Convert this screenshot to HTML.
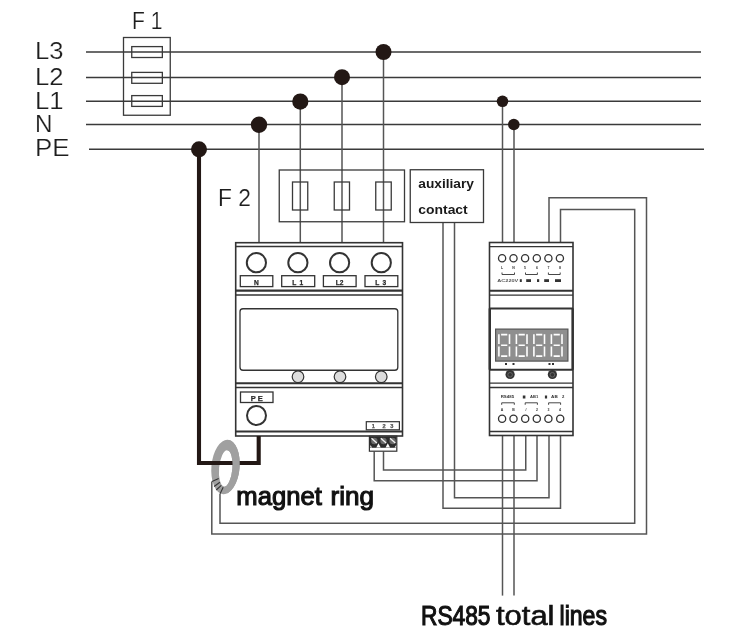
<!DOCTYPE html>
<html><head><meta charset="utf-8">
<style>
html,body{margin:0;padding:0;background:#fff;width:739px;height:644px;overflow:hidden}
svg{display:block;will-change:transform}
text{font-family:"Liberation Sans",sans-serif}
</style></head><body>
<svg width="739" height="644" viewBox="0 0 739 644">
<rect width="739" height="644" fill="#fff"/>

<!-- bus lines -->
<g stroke="#3a3a3a" stroke-width="1.5" fill="none">
<line x1="86" y1="52" x2="701" y2="52"/>
<line x1="86" y1="77.5" x2="701" y2="77.5"/>
<line x1="86" y1="101.3" x2="701" y2="101.3"/>
<line x1="86" y1="124.5" x2="701" y2="124.5"/>
<line x1="89" y1="149.3" x2="704" y2="149.3"/>
</g>

<!-- labels -->
<g fill="#1e1e1e" font-size="23.5" stroke="#fff" stroke-width="0.2">
<text x="35" y="58.7" textLength="28.5" lengthAdjust="spacingAndGlyphs">L3</text>
<text x="35" y="85" textLength="28.5" lengthAdjust="spacingAndGlyphs">L2</text>
<text x="35" y="109.2" textLength="28.5" lengthAdjust="spacingAndGlyphs">L1</text>
<text x="35" y="132" textLength="17.5" lengthAdjust="spacingAndGlyphs">N</text>
<text x="35" y="156.2" textLength="34.5" lengthAdjust="spacingAndGlyphs">PE</text>
<text x="132" y="28.7" textLength="30.5" lengthAdjust="spacingAndGlyphs">F 1</text>
<text x="218" y="205.5" textLength="33" lengthAdjust="spacingAndGlyphs">F 2</text>
</g>

<!-- F1 box -->
<g stroke="#3a3a3a" stroke-width="1.3" fill="none">
<rect x="123.5" y="37.5" width="46.75" height="77.75"/>
<rect x="131.75" y="46.6" width="30.6" height="10.9"/>
<rect x="131.75" y="72.4" width="30.6" height="10.9"/>
<rect x="131.75" y="95.6" width="30.6" height="10.8"/>
</g>

<!-- vertical wires -->
<g stroke="#555" stroke-width="1.5" fill="none">
<line x1="259" y1="125" x2="259" y2="243"/>
<line x1="300.3" y1="101.5" x2="300.3" y2="243"/>
<line x1="342" y1="77" x2="342" y2="243"/>
<line x1="383.5" y1="52" x2="383.5" y2="243"/>
<line x1="502.5" y1="101.3" x2="502.5" y2="243"/>
<line x1="514" y1="124.5" x2="514" y2="243"/>
<!-- aux wires -->
<polyline points="443,222.5 443,508.3 560.5,508.3 560.5,435.5"/>
<polyline points="454.5,222.5 454.5,497.8 549,497.8 549,435.5"/>
<!-- terminal wires -->
<polyline points="374.2,451.5 374.2,480.8 537,480.8 537,435.5"/>
<polyline points="383.5,451.5 383.5,470 525.75,470 525.75,435.5"/>
<!-- rs485 -->
<line x1="502.5" y1="435.5" x2="502.5" y2="595.6"/>
<line x1="514" y1="435.5" x2="514" y2="595.6"/>
<!-- loops -->
<polyline points="549,243 549,197.7 646.5,197.7 646.5,534 211.8,534 211.8,481.6"/>
<polyline points="560.5,243 560.5,209.4 634.7,209.4 634.7,523.3 220,523.3 220,493.7"/>
</g>

<!-- F2 box -->
<g stroke="#3a3a3a" stroke-width="1.3" fill="none">
<rect x="279.25" y="170" width="125.25" height="51.75"/>
<rect x="292.5" y="182" width="15.25" height="28"/>
<rect x="334.25" y="182" width="15.25" height="28"/>
<rect x="375.75" y="182" width="15.5" height="28"/>
</g>

<!-- aux box -->
<rect x="410.25" y="169.75" width="73.25" height="52.75" stroke="#3a3a3a" stroke-width="1.3" fill="#fff"/>
<g fill="#1a1a1a" font-size="13" font-weight="bold">
<text x="418.25" y="188" textLength="55.75" lengthAdjust="spacingAndGlyphs">auxiliary</text>
<text x="418.25" y="214" textLength="49.5" lengthAdjust="spacingAndGlyphs">contact</text>
</g>

<!-- breaker body -->
<g stroke="#333" fill="none">
<rect x="235.7" y="242.7" width="166.8" height="193.3" stroke-width="1.6"/>
<line x1="235.7" y1="246.5" x2="402.5" y2="246.5" stroke-width="1.3"/>
<line x1="235.7" y1="290.7" x2="402.5" y2="290.7" stroke-width="2.2"/>
<line x1="235.7" y1="295" x2="402.5" y2="295" stroke-width="1.3"/>
<line x1="235.7" y1="383.25" x2="402.5" y2="383.25" stroke-width="1.8"/>
<line x1="235.7" y1="387.5" x2="402.5" y2="387.5" stroke-width="1.3"/>
<line x1="235.7" y1="431.5" x2="402.5" y2="431.5" stroke-width="1.8"/>
<circle cx="256.4" cy="262.7" r="9.6" stroke-width="2"/>
<circle cx="297.9" cy="262.7" r="9.6" stroke-width="2"/>
<circle cx="339.6" cy="262.7" r="9.6" stroke-width="2"/>
<circle cx="381.3" cy="262.7" r="9.6" stroke-width="2"/>
<g stroke-width="1.3">
<rect x="240.3" y="275.7" width="32.5" height="10.9"/>
<rect x="281.7" y="275.7" width="33" height="10.9"/>
<rect x="323.4" y="275.7" width="32.7" height="10.9"/>
<rect x="365" y="275.7" width="32.8" height="10.9"/>
<rect x="240" y="308.75" width="157.8" height="61.5" rx="3"/>
<rect x="240.5" y="392" width="32.5" height="10.5"/>
</g>
<circle cx="298" cy="376.75" r="5.8" fill="#ddd" stroke-width="1.2"/>
<circle cx="340" cy="376.75" r="5.8" fill="#ddd" stroke-width="1.2"/>
<circle cx="381.25" cy="376.75" r="5.8" fill="#ddd" stroke-width="1.2"/>
<circle cx="256.5" cy="415.5" r="9.5" stroke-width="2"/>
<rect x="366.3" y="421.7" width="33.1" height="8.1" stroke-width="1.2" fill="#fff"/>
</g>
<g fill="#2a2a2a" stroke="#2a2a2a" stroke-width="0.25" font-size="6.6" font-weight="bold" text-anchor="middle">
<text x="256.5" y="284.8">N</text>
<text x="298.2" y="284.8" letter-spacing="0.8">L 1</text>
<text x="339.7" y="284.8">L2</text>
<text x="381.2" y="284.8" letter-spacing="0.8">L 3</text>
<text x="256.7" y="400.8" font-size="7.5">P E</text>
<text x="373.4" y="428" font-size="5.6" fill="#555" stroke="#555">1</text><text x="384" y="428" font-size="5.6" fill="#555" stroke="#555">2</text><text x="391.7" y="428" font-size="5.6" fill="#555" stroke="#555">3</text>
</g>
<!-- screw block -->
<rect x="369.4" y="436.2" width="27.4" height="15" fill="#fff" stroke="#333" stroke-width="1.2"/>
<rect x="369.8" y="436.4" width="26.6" height="11.4" fill="#2c2c2c"/>
<g fill="#6a6a6a"><circle cx="374.3" cy="441" r="3.2"/><circle cx="383.5" cy="441" r="3.2"/><circle cx="392.6" cy="441" r="3.2"/></g>
<g stroke="#f2f2f2" stroke-width="1.3">
<line x1="371.5" y1="438.3" x2="376.8" y2="443"/>
<line x1="380.8" y1="438.3" x2="386.1" y2="443"/>
<line x1="390" y1="438.3" x2="395.3" y2="443"/>
</g>
<g fill="#fff"><path d="M376.3,447.6 l2.2,-4.3 l2.2,4.3z"/><path d="M385.6,447.6 l2.2,-4.3 l2.2,4.3z"/><path d="M370.3,447.6 l0,-2.5 l1.8,2.5z"/><path d="M394.6,447.6 l1.6,-2.5 l0,2.5z"/></g>
<!-- meter -->
<g stroke="#333" fill="none">
<rect x="489.5" y="242.5" width="83.5" height="193" stroke-width="1.6"/>
<line x1="489.5" y1="246.7" x2="573" y2="246.7" stroke-width="1.3"/>
<line x1="489.5" y1="290.7" x2="573" y2="290.7" stroke-width="2"/>
<line x1="489.5" y1="295.2" x2="573" y2="295.2" stroke-width="1.3"/>
<line x1="489.5" y1="308.4" x2="573" y2="308.4" stroke-width="2"/>
<line x1="489.5" y1="369.7" x2="573" y2="369.7" stroke-width="2"/>
<line x1="489.8" y1="308.4" x2="489.8" y2="369.7" stroke-width="2.4"/>
<line x1="572.6" y1="308.4" x2="572.6" y2="369.7" stroke-width="2.4"/>
<line x1="489.5" y1="383.2" x2="573" y2="383.2" stroke-width="1.3"/>
<line x1="489.5" y1="387.5" x2="573" y2="387.5" stroke-width="1.3"/>
<line x1="489.5" y1="431.4" x2="573" y2="431.4" stroke-width="1.5"/>
<g stroke-width="1.3">
<circle cx="502.1" cy="258.2" r="3.6"/><circle cx="513.5" cy="258.2" r="3.6"/><circle cx="525.1" cy="258.2" r="3.6"/>
<circle cx="536.8" cy="258.2" r="3.6"/><circle cx="548.4" cy="258.2" r="3.6"/><circle cx="559.9" cy="258.2" r="3.6"/>
<circle cx="502.1" cy="418.8" r="3.6"/><circle cx="513.5" cy="418.8" r="3.6"/><circle cx="525.2" cy="418.8" r="3.6"/>
<circle cx="536.8" cy="418.8" r="3.6"/><circle cx="548.4" cy="418.8" r="3.6"/><circle cx="560.2" cy="418.8" r="3.6"/>
</g>
<g stroke-width="0.9">
<path d="M502,272.5 V274.5 H514.5 V272.5"/>
<path d="M525.5,272.5 V274.5 H537.4 V272.5"/>
<path d="M548.4,272.5 V274.5 H560.2 V272.5"/>
<path d="M501.7,404.8 V402.8 H514.3 V404.8"/>
<path d="M525.2,404.8 V402.8 H537.4 V404.8"/>
<path d="M548.6,404.8 V402.8 H560.6 V404.8"/>
</g>
</g>
<rect x="495.6" y="329.1" width="72.3" height="32" fill="#8f8f8f" stroke="#555" stroke-width="1.2"/>
<g fill="#333" font-size="3.5" font-weight="bold" text-anchor="middle">
<text x="502" y="268.5">L</text><text x="513.5" y="268.5">N</text><text x="525" y="268.5">5</text>
<text x="537" y="268.5">6</text><text x="548.5" y="268.5">7</text><text x="560" y="268.5">8</text>

</g><g fill="#333" font-size="4.2" font-weight="bold">
<text x="500.7" y="398.4" textLength="13.4" lengthAdjust="spacingAndGlyphs">RS485</text><rect x="522.8" y="395.5" width="2.6" height="3"/>
<text x="530" y="398.4" textLength="8.2" lengthAdjust="spacingAndGlyphs">AB1</text><rect x="544.9" y="395.5" width="2.2" height="3"/>
<text x="551.1" y="398.4" textLength="6.7" lengthAdjust="spacingAndGlyphs">AB</text><text x="561.9" y="398.4">2</text>
</g><g fill="#333" font-size="3.5" font-weight="bold" text-anchor="middle">
<text x="502" y="411" font-size="3.5">A</text><text x="513.5" y="411" font-size="3.5">B</text><text x="526" y="411" font-size="3.5">/</text>
<text x="537" y="411" font-size="3.5">2</text><text x="548.5" y="411" font-size="3.5">3</text><text x="560" y="411" font-size="3.5">4</text>
</g>
<g fill="#333"><rect x="505" y="363" width="2" height="2"/><rect x="512.5" y="363" width="2" height="2"/><rect x="548.5" y="363" width="2" height="2"/><rect x="552" y="363" width="2" height="2"/></g>
<circle cx="510.1" cy="374.5" r="4.6" fill="#333"/>
<circle cx="552.4" cy="374.5" r="4.6" fill="#333"/>
<circle cx="510.1" cy="374.8" r="2.3" fill="none" stroke="#6a6a6a" stroke-width="0.9"/>
<circle cx="552.4" cy="374.8" r="2.3" fill="none" stroke="#6a6a6a" stroke-width="0.9"/>
<g fill="#555" font-size="4.2" font-weight="bold"><text x="497.3" y="282.3" textLength="21" lengthAdjust="spacingAndGlyphs">AC220V</text></g>
<g fill="#333"><rect x="519.8" y="279.2" width="2" height="2.8"/><rect x="526.2" y="279.2" width="4.8" height="2.8"/><rect x="537" y="279.2" width="2.2" height="2.8"/><rect x="544.2" y="279.2" width="4.8" height="2.8"/><rect x="555" y="279.2" width="6" height="2.8"/></g>
<!-- digits -->
<g stroke="#fff" stroke-width="1.6" fill="none">
<path d="M498.9,334.3 V344 M498.9,346.6 V356.6 M509.5,334.3 V344 M509.5,346.6 V356.6 M501.1,334.6 H507.3 M501.1,345.3 H507.3 M501.1,356.1 H507.3"/>
<path d="M516.4,334.3 V344 M516.4,346.6 V356.6 M527.0,334.3 V344 M527.0,346.6 V356.6 M518.6,334.6 H524.8 M518.6,345.3 H524.8 M518.6,356.1 H524.8"/>
<path d="M533.9,334.3 V344 M533.9,346.6 V356.6 M544.5,334.3 V344 M544.5,346.6 V356.6 M536.1,334.6 H542.3 M536.1,345.3 H542.3 M536.1,356.1 H542.3"/>
<path d="M551.4,334.3 V344 M551.4,346.6 V356.6 M562.0,334.3 V344 M562.0,346.6 V356.6 M553.6,334.6 H559.8 M553.6,345.3 H559.8 M553.6,356.1 H559.8"/>
</g>

<!-- magnet ring -->
<g transform="rotate(5 225.5 467)">
<path d="M211.4,467 a14.1,27.3 0 1,0 28.2,0 a14.1,27.3 0 1,0 -28.2,0 Z M219.2,468.35 a6.65,18.15 0 1,0 13.3,0 a6.65,18.15 0 1,0 -13.3,0 Z" fill="#a0a0a0" fill-rule="evenodd"/>
</g>
<!-- thick PE wire -->
<path d="M199,149.3 V463 H258.7 V436" fill="none" stroke="#231815" stroke-width="4.1"/>
<clipPath id="rc"><rect x="227" y="440" width="30" height="60"/></clipPath>
<g clip-path="url(#rc)"><g transform="rotate(5 225.5 467)">
<path d="M211.4,467 a14.1,27.3 0 1,0 28.2,0 a14.1,27.3 0 1,0 -28.2,0 Z M219.2,468.35 a6.65,18.15 0 1,0 13.3,0 a6.65,18.15 0 1,0 -13.3,0 Z" fill="#a0a0a0" fill-rule="evenodd"/>
</g></g>
<g stroke="#333" stroke-width="1.1" fill="none">
<line x1="212" y1="481.6" x2="218.7" y2="478.6"/>
<line x1="214.1" y1="486.5" x2="219.9" y2="482.3"/>
<line x1="216.2" y1="490" x2="221.3" y2="485.4"/>
<line x1="220.1" y1="493.75" x2="223.2" y2="487.2"/>
</g>

<!-- dots -->
<g fill="#231815">
<circle cx="199" cy="149.3" r="8"/>
<circle cx="259" cy="124.8" r="8.2"/>
<circle cx="300.3" cy="101.6" r="8.1"/>
<circle cx="342" cy="77.2" r="8"/>
<circle cx="383.5" cy="52" r="8"/>
<circle cx="502.5" cy="101.3" r="5.8"/>
<circle cx="513.8" cy="124.5" r="5.8"/>
</g>

<!-- captions -->
<g fill="#111" stroke="#111" stroke-width="1.15">
<text x="236.3" y="504.5" font-size="26.3" textLength="85.5" lengthAdjust="spacingAndGlyphs">magnet</text>
<text x="330.5" y="504.5" font-size="26.3" textLength="43.5" lengthAdjust="spacingAndGlyphs">ring</text>
<text x="421" y="624.8" font-size="26.8" textLength="69.5" lengthAdjust="spacingAndGlyphs">RS485</text>
<text x="496" y="624.8" stroke-width="0.6" font-size="27" textLength="58.5" lengthAdjust="spacingAndGlyphs">total</text>
<text x="559.5" y="624.8" font-size="26.8" textLength="47.5" lengthAdjust="spacingAndGlyphs">lines</text>
</g>
</svg>
</body></html>
